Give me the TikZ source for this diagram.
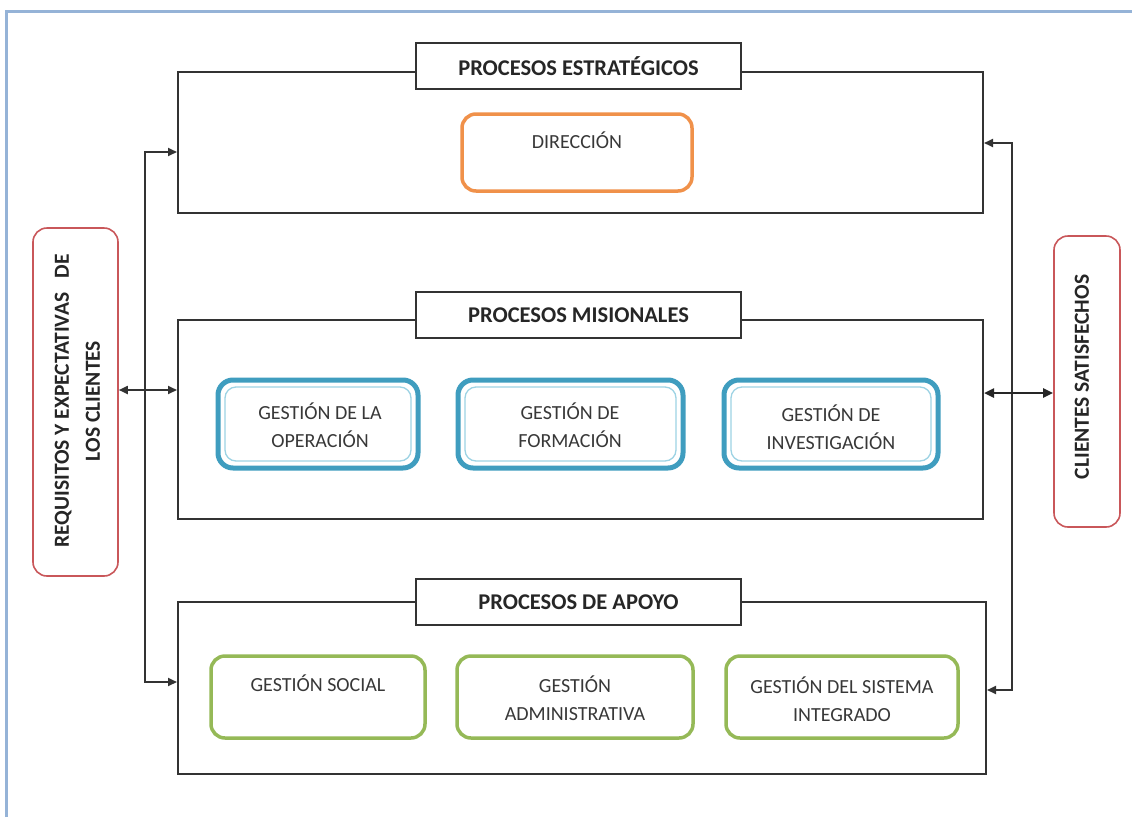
\documentclass[tikz,border=0pt]{standalone}
\usepackage{fontspec}
\setmainfont{Carlito}
\usetikzlibrary{arrows.meta,calc}
\definecolor{framec}{HTML}{95B3D7}
\definecolor{linec}{HTML}{333333}
\definecolor{txtc}{HTML}{383838}
\definecolor{orangec}{HTML}{F0914A}
\definecolor{bluec}{HTML}{3F9DBF}
\definecolor{lbluec}{HTML}{9DD3E4}
\definecolor{greenc}{HTML}{95B957}
\definecolor{redc}{HTML}{C9575A}
\tikzset{
  procbox/.style={draw=linec,line width=2pt,minimum width=805pt,inner sep=0pt},
  titlebox/.style={draw=linec,fill=white,line width=2pt,minimum width=325pt,minimum height=46pt,inner sep=0pt,font=\fontsize{22.5}{26}\selectfont\bfseries,text=black!85},
  dirbox/.style={draw=orangec,line width=3.5pt,rounded corners=14pt,inner sep=0pt},
  bluebox/.style={draw=bluec,line width=5pt,rounded corners=15pt,minimum height=88pt,inner sep=0pt},
  blueinner/.style={draw=lbluec,line width=1.3pt,rounded corners=11pt,inner sep=0pt},
  greenbox/.style={draw=greenc,line width=3.5pt,rounded corners=14pt,minimum height=82pt,inner sep=0pt},
  redbox/.style={draw=redc,line width=1.6pt,rounded corners=14pt,inner sep=0pt},
  boxtext/.style={font=\fontsize{20}{28}\selectfont,text=txtc,align=center,inner sep=0pt},
  sidetext/.style={font=\fontsize{21.5}{31}\selectfont\bfseries,text=black!85,align=center,inner sep=0pt,rotate=90},
  conn/.style={draw=linec,line width=1.8pt,{Triangle[length=9pt,width=8pt]}-{Triangle[length=9pt,width=8pt]}},
  conn2/.style={draw=black!85,line width=2.4pt,{Triangle[length=10pt,width=9pt]}-{Triangle[length=10pt,width=9pt]}},
}
\begin{document}
\begin{tikzpicture}[x=1pt,y=-1pt]
\useasboundingbox (0,0) rectangle (1132,817);
\fill[white] (0,0) rectangle (1132,817);
\draw[framec,line width=3pt] (6,817) -- (6,11) -- (1132,11);

% process boxes
\node[procbox,minimum height=141pt] (strat) at (580.5,142.5) {};
\node[procbox,minimum height=199pt] (mis) at (580.5,419.5) {};
\node[procbox,minimum width=808pt,minimum height=172pt] (apoyo) at (582,688) {};

% titles
\node[titlebox] (t1) at (578.5,66) {PROCESOS ESTRATÉGICOS};
\node[titlebox] (t2) at (578.5,315) {PROCESOS MISIONALES};
\node[titlebox] (t3) at (578.5,602) {PROCESOS DE APOYO};

% direccion
\node[dirbox,minimum width=230pt,minimum height=77pt] (dir) at (577,152.5) {};
\node[boxtext] (dirt) at (577,140) {DIRECCIÓN};

% blue boxes
\node[bluebox,minimum width=200pt] (b1) at (318,424) {};
\node[blueinner,minimum width=186pt,minimum height=74pt] (b1i) at (b1.center) {};
\node[boxtext] (b1t) at (320,425) {GESTIÓN DE LA\\OPERACIÓN};
\node[bluebox,minimum width=225pt] (b2) at (570.5,424) {};
\node[blueinner,minimum width=211pt,minimum height=74pt] (b2i) at (b2.center) {};
\node[boxtext] (b2t) at (570,425) {GESTIÓN DE\\FORMACIÓN};
\node[bluebox,minimum width=214pt] (b3) at (831,424) {};
\node[blueinner,minimum width=200pt,minimum height=74pt] (b3i) at (b3.center) {};
\node[boxtext] (b3t) at (831,427) {GESTIÓN DE\\INVESTIGACIÓN};

% green boxes
\node[greenbox,minimum width=214pt] (g1) at (318,697) {};
\node[boxtext] (g1t) at (318,683) {GESTIÓN SOCIAL};
\node[greenbox,minimum width=236pt] (g2) at (575,697) {};
\node[boxtext] (g2t) at (575,698) {GESTIÓN\\ADMINISTRATIVA};
\node[greenbox,minimum width=232pt] (g3) at (842,697) {};
\node[boxtext] (g3t) at (842,699) {GESTIÓN DEL SISTEMA\\INTEGRADO};

% side boxes
\node[redbox,minimum width=85pt,minimum height=348pt] (req) at (75.5,402) {};
\node[sidetext] (reqt) at (77.5,401) {\makebox[293pt]{REQUISITOS Y EXPECTATIVAS\hfill DE}\\LOS CLIENTES};
\node[redbox,minimum width=66pt,minimum height=291pt] (cli) at (1087,381.5) {};
\node[sidetext] (clit) at (1082,377) {CLIENTES SATISFECHOS};

% connectors left
\coordinate (lt) at (145,152);
\coordinate (lb) at (145,682);
\coordinate (lm) at (145,390);
\draw[conn] (strat.west |- lt) -- (lt) -- (lb) -- (apoyo.west |- lb);
\draw[conn] (req.east |- lm) -- (mis.west |- lm);

% connectors right
\coordinate (rt) at (1012,143);
\coordinate (rb) at (1012,690);
\coordinate (rm) at (1012,393);
\draw[conn] (strat.east |- rt) -- (rt) -- (rb) -- (apoyo.east |- rb);
\draw[conn2] (mis.east |- rm) -- (cli.west |- rm);
\end{tikzpicture}
\end{document}
